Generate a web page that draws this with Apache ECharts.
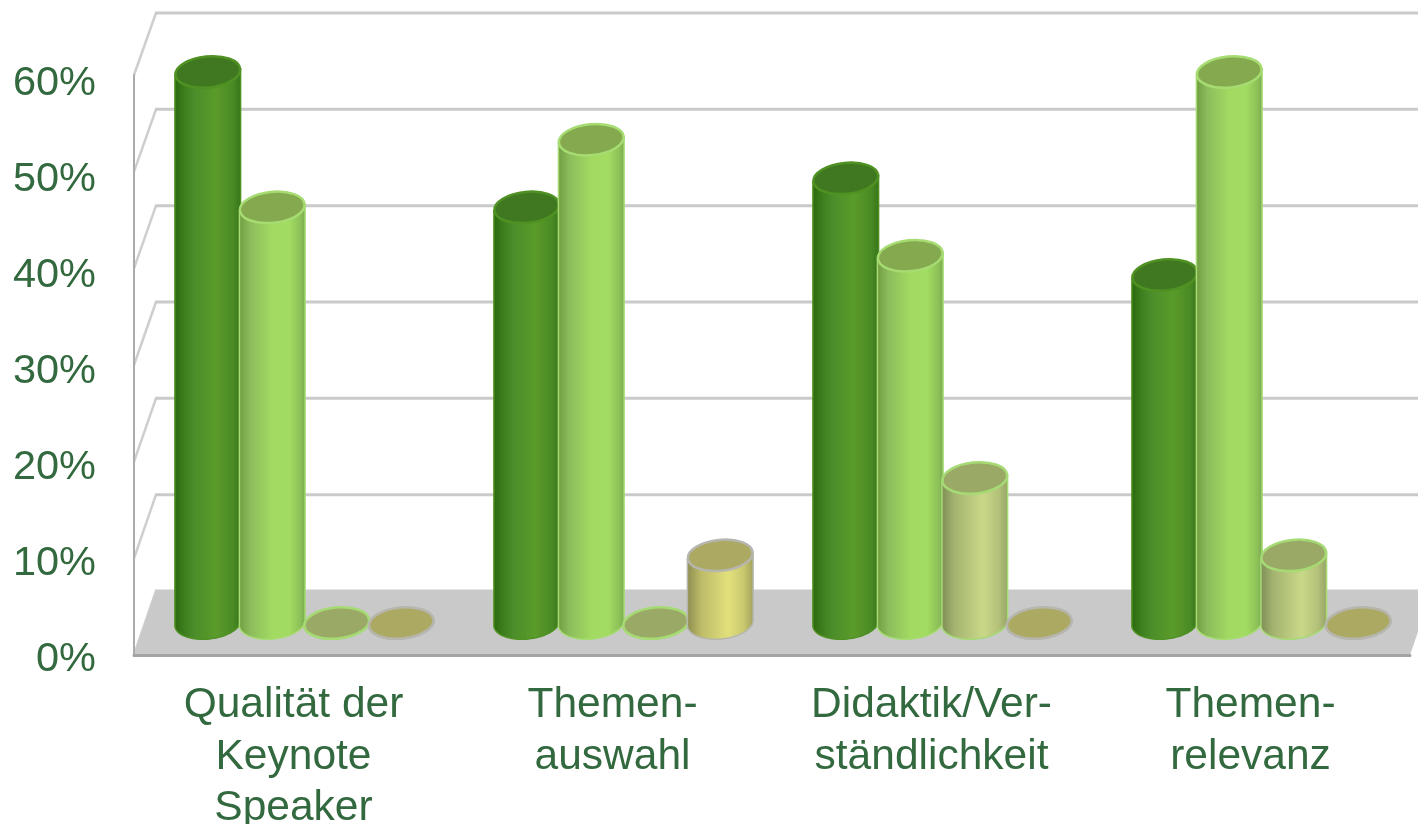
<!DOCTYPE html>
<html>
<head>
<meta charset="utf-8">
<style>
html,body{margin:0;padding:0;background:#fff;}
#main{width:1418px;height:824px;}
</style>
<script src="https://cdn.jsdelivr.net/npm/echarts@6/dist/echarts.min.js"></script>
</head>
<body>
<div id="main"></div>
<script>
var categories = ['Qualität der\nKeynote\nSpeaker', 'Themen-\nauswahl', 'Didaktik/Ver-\nständlichkeit', 'Themen-\nrelevanz'];
var series1 = [57, 43, 46, 36];
var series2 = [43, 50, 38, 57];
var series3 = [0, 0, 15, 7];
var series4 = [0, 7, 0, 0];
var wallTicks = [0, 10, 20, 30, 40, 50, 60];

// look of the cylinders: side gradient, top colour, edge colour
var looks = [
  {side: [[0, '#2c660e'], [0.12, '#3a7a1b'], [0.3, '#4b8d2a'], [0.62, '#5b9b2a'], [0.88, '#4a8a24'], [1, '#35721a']], top: '#3f7821', edge: '#4f9122'},
  {side: [[0, '#6f9b40'], [0.18, '#8dbd5c'], [0.5, '#a2da62'], [0.75, '#a3dc62'], [0.92, '#8cc058'], [1, '#78a650']], top: '#84a94f', edge: '#a6dc72'},
  {side: [[0, '#7d8d55'], [0.2, '#a4b470'], [0.62, '#c9d888'], [0.85, '#b4c27a'], [1, '#95a366']], top: '#9aa965', edge: '#a6da74'},
  {side: [[0, '#8d8c50'], [0.22, '#bdbc68'], [0.62, '#e2e07c'], [0.85, '#c9c86e'], [1, '#a09f5e']], top: '#aba962', edge: '#b6b6ae'}
];

// fake 3D depth of the box in px
var DEPTH_X = 22;
var DEPTH_Y = 64;
var DEPTH_Y_TOP = 62;
var RX = 33;
var RY = 16;
var TILT = 0.1;

function ellipsePoint(cx, cy, a) {
  var x = RX * Math.cos(a), y = RY * Math.sin(a);
  return [cx + x * Math.cos(TILT) + y * Math.sin(TILT), cy - x * Math.sin(TILT) + y * Math.cos(TILT)];
}

function cylinder(idx) {
  return function (params, api) {
    var base = api.coord([api.value(0), 0]);
    var top = api.coord([api.value(0), api.value(1)]);
    var step = api.size([1, 0])[0] * 0.2022;
    var cx = base[0] + DEPTH_X / 2 + (idx - 1.5) * step;
    var cyBase = base[1] - DEPTH_Y / 2;
    var cyTop = top[1] - DEPTH_Y / 2;
    var look = looks[idx];
    var pts = [];
    for (var i = 0; i <= 40; i++) {
      pts.push(ellipsePoint(cx, cyBase, Math.PI * i / 40));
    }
    pts.push(ellipsePoint(cx, cyTop, Math.PI));
    pts.push(ellipsePoint(cx, cyTop, 0));
    var stops = look.side.map(function (s) { return {offset: s[0], color: s[1]}; });
    return {
      type: 'group',
      children: [
        {
          type: 'polygon',
          shape: {points: pts},
          style: {fill: new echarts.graphic.LinearGradient(0, 0, 1, 0, stops), stroke: look.edge, lineWidth: 1.5}
        },
        {
          type: 'ellipse',
          x: cx,
          y: cyTop,
          rotation: TILT,
          shape: {cx: 0, cy: 0, rx: RX - 0.5, ry: RY - 0.5},
          style: {fill: look.top, stroke: look.edge, lineWidth: 2.5}
        }
      ]
    };
  };
}

function renderFloor(params, api) {
  var cs = params.coordSys;
  var y = api.coord([0, 0])[1];
  return {
    type: 'polygon',
    shape: {points: [[cs.x, y], [cs.x + DEPTH_X, y - DEPTH_Y], [cs.x + cs.width + DEPTH_X, y - DEPTH_Y], [cs.x + cs.width, y]]},
    style: {fill: '#c9c9c9'}
  };
}

function renderWallLine(params, api) {
  var cs = params.coordSys;
  var v = api.value(1);
  var y = api.coord([0, v])[1];
  var dy = DEPTH_Y - (DEPTH_Y - DEPTH_Y_TOP) * v / 60;
  return {
    type: 'group',
    children: [
      {type: 'line', shape: {x1: cs.x, y1: y, x2: cs.x + DEPTH_X, y2: y - dy}, style: {stroke: '#cecece', lineWidth: 2.5}},
      {type: 'line', shape: {x1: cs.x + DEPTH_X - 1, y1: y - dy, x2: cs.x + cs.width + DEPTH_X, y2: y - dy}, style: {stroke: '#cacaca', lineWidth: 3}}
    ]
  };
}

var chart = echarts.init(document.getElementById('main'));

var seriesList = [
  {
    type: 'custom',
    renderItem: renderWallLine,
    clip: false,
    silent: true,
    encode: {x: 0, y: 1},
    data: wallTicks.map(function (t) { return [0, t]; })
  },
  {
    type: 'custom',
    renderItem: renderFloor,
    clip: false,
    silent: true,
    encode: {x: 0, y: 1},
    data: [[0, 0]]
  }
];
[series1, series2, series3, series4].forEach(function (vals, idx) {
  seriesList.push({
    type: 'custom',
    renderItem: cylinder(idx),
    clip: false,
    encode: {x: 0, y: 1},
    data: vals.map(function (v, i) { return [i, v]; })
  });
});

chart.setOption({
  animation: false,
  backgroundColor: '#fff',
  // second grid only carries the percent labels, they sit on a slightly tighter spacing than the box
  grid: [
    {left: 134, right: 8, top: 75, height: 580, outerBoundsMode: 'none'},
    {left: 134, right: 8, top: 84, height: 576, outerBoundsMode: 'none'}
  ],
  xAxis: [
    {
      type: 'category',
      gridIndex: 0,
      z: 3,
      data: categories,
      axisTick: {show: false},
      axisLine: {lineStyle: {color: '#a3a3a3', width: 3}},
      axisLabel: {
        interval: 0,
        margin: 25,
        fontFamily: 'Liberation Sans',
        fontSize: 42.5,
        lineHeight: 51.5,
        color: '#33693f',
        align: 'center'
      }
    },
    {type: 'value', gridIndex: 1, show: false, min: 0, max: 1}
  ],
  yAxis: [
    {
      type: 'value',
      gridIndex: 0,
      z: 3,
      min: 0,
      max: 60,
      interval: 10,
      axisLabel: {show: false},
      axisTick: {show: false},
      splitLine: {show: false},
      axisLine: {show: true, lineStyle: {color: '#ababab', width: 2}}
    },
    {
      type: 'value',
      gridIndex: 1,
      min: 0,
      max: 60,
      interval: 10,
      axisLine: {show: false},
      axisTick: {show: false},
      splitLine: {show: false},
      axisLabel: {
        margin: 38,
        fontFamily: 'Liberation Sans',
        fontSize: 41.5,
        color: '#33693f',
        formatter: '{value}%'
      }
    }
  ],
  series: seriesList
});
</script>
</body>
</html>
